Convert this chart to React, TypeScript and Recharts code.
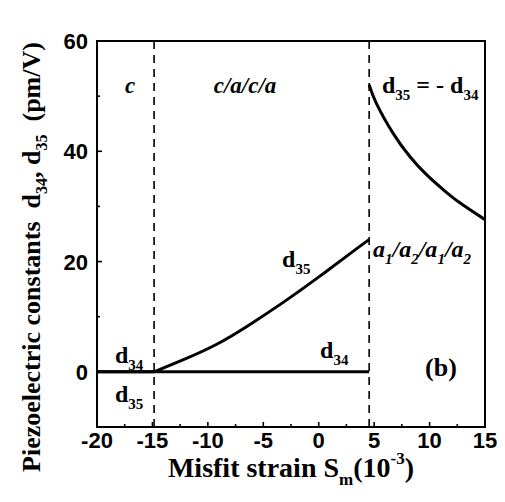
import React from 'react';
import {
  LineChart,
  Line,
  XAxis,
  YAxis,
  ReferenceLine,
  ReferenceArea,
  ReferenceDot,
  Label,
} from 'recharts';

// ---- data ----
const xTicks = [-20, -17.5, -15, -12.5, -10, -7.5, -5, -2.5, 0, 2.5, 5, 7.5, 10, 12.5, 15];
const yTicks = [-10, 0, 10, 20, 30, 40, 50, 60];
const xMajor = [-20, -15, -10, -5, 0, 5, 10, 15];
const yMajor = [0, 20, 40, 60];
const phaseBoundaries = [-14.85, 4.55];

const d34Line = [
  { s: -20, d: 0 },
  { s: 4.55, d: 0 },
];
const d35Flat = [
  { s: -20, d: 0 },
  { s: -14.85, d: 0 },
];
const d35Rise = [
  { s: -14.85, d: 0 },
  { s: -12.2, d: 2.2 },
  { s: -9.2, d: 5.0 },
  { s: -6.2, d: 8.6 },
  { s: -3.2, d: 12.6 },
  { s: -0.2, d: 16.9 },
  { s: 2.8, d: 21.4 },
  { s: 4.55, d: 24.0 },
];
const d35a1a2 = [
  { s: 4.55, d: 52.1 },
  { s: 5.2, d: 48.7 },
  { s: 6.7, d: 43.3 },
  { s: 8.2, d: 39.1 },
  { s: 9.7, d: 35.8 },
  { s: 11.2, d: 33.1 },
  { s: 12.7, d: 30.7 },
  { s: 15, d: 27.6 },
];

type Piece = { t: string; sub?: boolean; sup?: boolean };
type Note = { x: number; y: number; pieces: Piece[]; italic?: boolean; anchor?: 'start' | 'middle' | 'end'; size?: number };

const notes: Note[] = [
  { x: -17.02, y: 50.5, pieces: [{ t: 'c' }], italic: true, anchor: 'middle', size: 23 },
  { x: -6.65, y: 50.5, pieces: [{ t: 'c/a/c/a' }], italic: true, anchor: 'middle', size: 23 },
  { x: 5.71, y: 50.5, pieces: [{ t: 'd' }, { t: '35', sub: true }, { t: ' = - d' }, { t: '34', sub: true }] },
  { x: 4.9, y: 20.8, pieces: [{ t: 'a' }, { t: '1', sub: true }, { t: '/a' }, { t: '2', sub: true }, { t: '/a' }, { t: '1', sub: true }, { t: '/a' }, { t: '2', sub: true }], italic: true },
  { x: -3.31, y: 19.0, pieces: [{ t: 'd' }, { t: '35', sub: true }] },
  { x: 0.12, y: 2.5, pieces: [{ t: 'd' }, { t: '34', sub: true }] },
  { x: -18.38, y: 1.6, pieces: [{ t: 'd' }, { t: '34', sub: true }] },
  { x: -18.38, y: -5.5, pieces: [{ t: 'd' }, { t: '35', sub: true }] },
  { x: 11.03, y: -0.75, pieces: [{ t: '(b)' }], anchor: 'middle', size: 26 },
];

const SERIF = '"Liberation Serif", "Times New Roman", serif';
const SANS = '"Liberation Sans", Arial, sans-serif';
const TICK_MARGIN = 4;

const richSpans = (pieces: Piece[], subSize: number, shift: number) => {
  let cur = 0;
  return pieces.map((p, i) => {
    const target = p.sub ? shift : p.sup ? -shift * 1.6 : 0;
    const dy = target - cur;
    cur = target;
    return (
      <tspan key={i} dy={dy} fontSize={p.sub || p.sup ? subSize : undefined}>
        {p.t}
      </tspan>
    );
  });
};

const makeNoteShape = (n: Note) => (props: any) => {
  const { cx, cy } = props;
  const size = n.size ?? 24;
  return (
    <text
      x={cx}
      y={cy}
      textAnchor={n.anchor ?? 'start'}
      fontFamily={SERIF}
      fontWeight="bold"
      fontStyle={n.italic ? 'italic' : 'normal'}
      fontSize={size}
      fill="#000"
    >
      {richSpans(n.pieces, 15, 7)}
    </text>
  );
};

const XTick = (props: any) => {
  const { x, y, payload } = props;
  const v = payload.value;
  const major = xMajor.includes(v);
  const axisY = y - TICK_MARGIN;
  return (
    <g>
      <line x1={x} x2={x} y1={axisY} y2={axisY - (major ? 5 : 3)} stroke="#000" strokeWidth={1.6} />
      {major && (
        <text x={x} y={axisY + 21} textAnchor="middle" fontFamily={SANS} fontWeight="bold" fontSize={22} fill="#000">
          {String(v)}
        </text>
      )}
    </g>
  );
};

const YTick = (props: any) => {
  const { x, y, payload } = props;
  const v = payload.value;
  const major = yMajor.includes(v);
  const axisX = x + TICK_MARGIN;
  return (
    <g>
      <line x1={axisX} x2={axisX + (major ? 5 : 3)} y1={y} y2={y} stroke="#000" strokeWidth={1.6} />
      {major && (
        <text x={axisX - 9} y={y + 8} textAnchor="end" fontFamily={SANS} fontWeight="bold" fontSize={22} fill="#000">
          {String(v)}
        </text>
      )}
    </g>
  );
};

const YTickRight = (props: any) => {
  const { x, y, payload } = props;
  const v = payload.value;
  const major = yMajor.includes(v);
  const axisX = x - TICK_MARGIN;
  return <line x1={axisX} x2={axisX - (major ? 4 : 2)} y1={y} y2={y} stroke="#000" strokeWidth={1.2} />;
};

const XTitle = (props: any) => {
  const vb = props.viewBox || { x: 97, y: 427, width: 388, height: 75 };
  const cx = vb.x + vb.width / 2;
  return (
    <text x={cx} y={vb.y + 50} textAnchor="middle" fontFamily={SERIF} fontWeight="bold" fontSize={28} fill="#000">
      {richSpans(
        [{ t: 'Misfit strain S' }, { t: 'm', sub: true }, { t: '(10' }, { t: '-3', sup: true }, { t: ')' }],
        17,
        8
      )}
    </text>
  );
};

const YTitle = (props: any) => {
  const vb = props.viewBox || { x: 0, y: 41, width: 97, height: 386 };
  const cx = 40;
  const cy = vb.y + vb.height / 2 + 23;
  return (
    <text
      x={cx}
      y={cy}
      transform={`rotate(-90, ${cx}, ${cy})`}
      textAnchor="middle"
      fontFamily={SERIF}
      fontWeight="bold"
      fontSize={26}
      fill="#000"
    >
      {richSpans(
        [
          { t: 'Piezoelectric constants\u00A0 d' },
          { t: '34', sub: true },
          { t: ', d' },
          { t: '35', sub: true },
          { t: '\u00A0 (pm/V)' },
        ],
        16,
        7
      )}
    </text>
  );
};

export default function App() {
  return (
    <div style={{ position: 'absolute', left: 0, top: 0, width: 505, height: 502, background: '#fff' }}>
      <LineChart width={505} height={502} margin={{ top: 41, right: 0, bottom: 0, left: 0 }}>
        <XAxis
          dataKey="s"
          type="number"
          domain={[-20, 15]}
          ticks={xTicks}
          interval={0}
          allowDataOverflow
          height={75}
          tickSize={0}
          tickMargin={TICK_MARGIN}
          tick={<XTick />}
          axisLine={{ stroke: '#000', strokeWidth: 2 }}
          tickLine={false}
        >
          <Label content={<XTitle />} />
        </XAxis>
        <YAxis
          yAxisId="l"
          type="number"
          domain={[-10, 60]}
          ticks={yTicks}
          interval={0}
          allowDataOverflow
          width={97}
          tickSize={0}
          tickMargin={TICK_MARGIN}
          tick={<YTick />}
          axisLine={{ stroke: '#000', strokeWidth: 2 }}
          tickLine={false}
        >
          <Label content={<YTitle />} />
        </YAxis>
        <YAxis
          yAxisId="r"
          orientation="right"
          type="number"
          domain={[-10, 60]}
          ticks={yTicks}
          interval={0}
          width={20}
          tickSize={0}
          tickMargin={TICK_MARGIN}
          tick={<YTickRight />}
          axisLine={{ stroke: '#000', strokeWidth: 2 }}
          tickLine={false}
        />
        <ReferenceArea
          yAxisId="l"
          x1={-20}
          x2={15}
          y1={-10}
          y2={60}
          fill="none"
          fillOpacity={0}
          stroke="#000"
          strokeWidth={2}
          ifOverflow="visible"
        />
        {phaseBoundaries.map((b) => (
          <ReferenceLine
            key={b}
            yAxisId="l"
            x={b}
            stroke="#000"
            strokeWidth={1.6}
            strokeDasharray="8 6"
          />
        ))}
        <Line yAxisId="l" data={d34Line} dataKey="d" type="linear" stroke="#000" strokeWidth={3} dot={false} isAnimationActive={false} />
        <Line yAxisId="l" data={d35Flat} dataKey="d" type="linear" stroke="#000" strokeWidth={3} dot={false} isAnimationActive={false} />
        <Line yAxisId="l" data={d35Rise} dataKey="d" type="natural" stroke="#000" strokeWidth={3} dot={false} isAnimationActive={false} />
        <Line yAxisId="l" data={d35a1a2} dataKey="d" type="natural" stroke="#000" strokeWidth={3} dot={false} isAnimationActive={false} />
        {notes.map((n, i) => (
          <ReferenceDot
            key={i}
            yAxisId="l"
            x={n.x}
            y={n.y}
            r={0}
            ifOverflow="visible"
            shape={makeNoteShape(n)}
          />
        ))}
      </LineChart>
    </div>
  );
}
